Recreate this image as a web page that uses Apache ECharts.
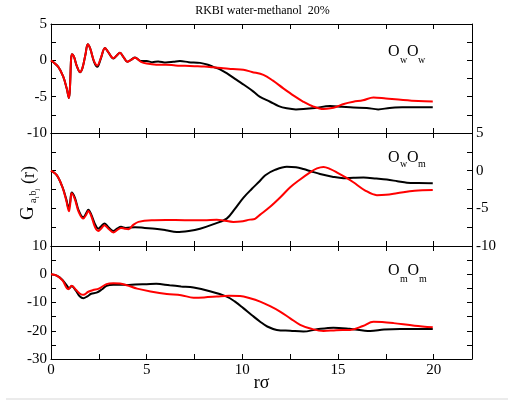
<!DOCTYPE html>
<html>
<head>
<meta charset="utf-8">
<script src="https://cdn.jsdelivr.net/npm/echarts@6.0.0/dist/echarts.min.js"></script>
<style>
html,body{margin:0;padding:0;background:#fff;}
#chart{width:514px;height:406px;}
</style>
</head>
<body>
<div id="chart"></div>
<script>
// ---------- data ----------
const titleText = 'RKBI water-methanol  20%';
const xTickLabels = [0, 5, 10, 15, 20];
const topTicks = [5, 0, -5, -10];
const midTicks = [5, 0, -5, -10];
const botTicks = [10, 0, -10, -20, -30];

const owowBlack = [[0,0],[0.38,-0.9],[0.64,-2.25],[0.82,-3.85],[0.94,-5.2],[1.0,-3.2],[1.05,0.2],[1.1,0.85],[1.2,0.5],[1.35,-0.8],[1.52,-1.65],[1.65,-1.0],[1.8,0.8],[1.92,2.2],[2.05,1.6],[2.25,-0.2],[2.42,-0.9],[2.6,0.2],[2.82,1.7],[3.0,1.1],[3.26,0.25],[3.45,0.7],[3.6,1.05],[3.8,0.4],[3.99,-0.2],[4.2,0.1],[4.39,0.4],[4.7,-0.1],[5.0,-0.1],[5.3,-0.25],[5.6,-0.15],[6.0,-0.3],[6.4,-0.2],[6.74,-0.1],[7.2,-0.25],[7.79,-0.35],[8.2,-0.6],[8.48,-0.9],[8.83,-1.24],[9.2,-1.8],[9.7,-2.7],[10.1,-3.4],[10.58,-4.3],[10.9,-5.0],[11.45,-5.7],[11.9,-6.3],[12.32,-6.6],[12.8,-6.75],[13.19,-6.7],[13.8,-6.55],[14.58,-6.3],[15.2,-6.4],[15.8,-6.5],[16.5,-6.55],[17.1,-6.75],[17.7,-6.55],[18.4,-6.47],[19.2,-6.45],[19.95,-6.47]];
const owowRed = [[0,0],[0.38,-0.9],[0.64,-2.25],[0.82,-3.85],[0.94,-5.2],[1.0,-3.2],[1.05,0.2],[1.1,0.85],[1.2,0.5],[1.35,-0.8],[1.52,-1.6],[1.65,-1.0],[1.8,0.8],[1.92,2.2],[2.05,1.6],[2.25,-0.1],[2.42,-0.7],[2.6,0.3],[2.82,1.7],[3.0,1.1],[3.26,0.3],[3.45,0.7],[3.6,1.05],[3.8,0.4],[3.99,-0.2],[4.2,0.1],[4.39,0.35],[4.7,-0.2],[5.0,-0.45],[5.5,-0.6],[6.0,-0.6],[6.5,-0.7],[7.0,-0.75],[7.5,-0.8],[8.0,-0.85],[8.48,-0.96],[9.0,-1.1],[9.5,-1.2],[10.05,-1.3],[10.5,-1.6],[11.1,-2.0],[11.6,-2.8],[12.14,-3.86],[12.7,-4.9],[13.19,-5.7],[13.7,-6.35],[14.24,-6.7],[14.6,-6.6],[14.93,-6.38],[15.3,-6.0],[15.8,-5.7],[16.3,-5.5],[16.85,-5.1],[17.5,-5.25],[18.4,-5.46],[19.2,-5.6],[19.95,-5.65]];

const owomBlack = [[0,0],[0.3,-0.6],[0.6,-2.2],[0.8,-3.8],[0.92,-5.0],[1.0,-4.2],[1.08,-2.9],[1.25,-3.6],[1.45,-5.3],[1.69,-6.2],[1.85,-5.6],[1.95,-5.2],[2.1,-5.8],[2.3,-7.1],[2.47,-7.7],[2.65,-7.3],[2.79,-7.0],[3.0,-7.5],[3.26,-8.0],[3.45,-7.7],[3.66,-7.46],[3.9,-7.6],[4.39,-7.5],[4.9,-7.6],[5.44,-7.7],[6.0,-7.9],[6.57,-8.15],[7.2,-8.0],[7.79,-7.7],[8.5,-7.1],[9.18,-6.36],[9.6,-5.1],[10.05,-3.6],[10.5,-2.4],[10.9,-1.4],[11.2,-0.6],[11.7,0.1],[12.32,0.53],[12.8,0.45],[13.19,0.22],[13.6,-0.1],[14.06,-0.44],[14.7,-0.8],[15.28,-1.0],[15.8,-0.95],[16.33,-0.92],[17.0,-1.05],[17.55,-1.18],[18.1,-1.4],[18.6,-1.6],[19.2,-1.65],[19.95,-1.67]];
const owomRed = [[0,0],[0.3,-0.6],[0.6,-2.2],[0.8,-4.0],[0.94,-5.4],[1.0,-4.5],[1.08,-3.0],[1.25,-3.8],[1.45,-5.5],[1.69,-6.36],[1.85,-5.8],[1.95,-5.35],[2.1,-6.0],[2.3,-7.5],[2.47,-8.0],[2.65,-7.6],[2.79,-7.24],[3.0,-7.7],[3.26,-8.2],[3.45,-7.9],[3.66,-7.6],[3.85,-7.7],[4.05,-7.76],[4.3,-7.2],[4.57,-6.8],[5.26,-6.58],[6.0,-6.55],[7.0,-6.58],[8.0,-6.58],[8.66,-6.5],[9.0,-6.6],[9.53,-6.8],[9.9,-6.75],[10.4,-6.5],[10.66,-6.4],[10.9,-5.9],[11.45,-4.8],[12.0,-3.5],[12.5,-2.2],[13.0,-1.2],[13.54,-0.22],[13.9,0.3],[14.24,0.5],[14.6,0.2],[14.93,-0.22],[15.4,-0.9],[15.8,-1.54],[16.4,-2.6],[17.03,-3.25],[17.5,-3.2],[18.07,-3.0],[19.0,-2.65],[19.95,-2.55]];

const ommBlack = [[0,0],[0.3,-0.5],[0.6,-2.0],[0.85,-4.2],[0.95,-5.0],[1.08,-4.2],[1.3,-5.8],[1.5,-7.8],[1.69,-8.5],[1.9,-7.8],[2.1,-6.9],[2.38,-6.5],[2.65,-5.4],[2.9,-4.1],[3.26,-3.7],[3.6,-3.7],[3.96,-3.8],[4.4,-3.6],[5.0,-3.5],[5.5,-3.4],[6.2,-3.9],[6.8,-4.3],[7.45,-4.7],[8.3,-6.0],[9.18,-7.9],[9.6,-9.6],[10.05,-12.0],[10.5,-14.5],[10.93,-16.8],[11.3,-18.5],[11.8,-19.7],[12.5,-20.0],[13.19,-20.3],[13.9,-19.5],[14.76,-18.9],[15.6,-19.3],[16.68,-20.1],[17.4,-19.6],[18.25,-19.4],[19.1,-19.4],[19.95,-19.4]];
const ommRed = [[0,0],[0.3,-0.5],[0.6,-2.2],[0.9,-5.3],[1.08,-4.1],[1.3,-5.5],[1.5,-6.8],[1.69,-7.3],[1.95,-6.2],[2.2,-5.6],[2.5,-5.1],[2.9,-3.5],[3.26,-3.2],[3.6,-3.3],[3.96,-3.9],[4.5,-5.1],[5.2,-6.1],[6.05,-7.0],[6.8,-7.4],[7.45,-8.3],[8.0,-8.2],[8.66,-7.9],[9.3,-7.6],[9.88,-7.7],[10.4,-8.5],[10.93,-9.7],[11.45,-11.3],[11.97,-13.2],[12.5,-15.6],[13.02,-17.9],[13.6,-19.3],[14.24,-20.1],[14.9,-19.8],[15.63,-19.7],[16.3,-18.3],[16.85,-16.8],[17.3,-16.9],[17.9,-17.3],[19.0,-18.2],[19.95,-18.8]];

// ---------- chart ----------
const serif = 'Liberation Serif';
const chart = echarts.init(document.getElementById('chart'), null, {renderer: 'canvas'});

const grids = [
  {left: 51, top: 24, width: 421, height: 109},
  {left: 51, top: 133, width: 421, height: 113},
  {left: 51, top: 246, width: 421, height: 113}
].map(g => Object.assign({containLabel: false, outerBoundsMode: 'none'}, g));

const axisLine = {show: true, onZero: false, lineStyle: {color: '#000', width: 1}};
const tick = {show: true, inside: true, length: 5, lineStyle: {color: '#000', width: 1}};
const labelStyle = {color: '#000', fontFamily: serif, fontSize: 15};

function inList(list) {
  return v => (list.indexOf(Math.round(v * 100) / 100) >= 0 ? String(v).replace('-', '-') : '');
}

const xAxes = [];
for (let i = 0; i < 3; i++) {
  ['bottom', 'top'].forEach(pos => {
    xAxes.push({
      type: 'value', gridIndex: i, position: pos, min: 0, max: 22, interval: 2.5,
      axisLine: axisLine, axisTick: tick, splitLine: {show: false},
      axisLabel: Object.assign({show: i === 2 && pos === 'bottom', margin: 4,
        formatter: inList(xTickLabels), showMaxLabel: false}, labelStyle)
    });
  });
}

const yCfg = [
  {min: -10, max: 5, interval: 2.5, labels: topTicks, left: true, right: false},
  {min: -10, max: 5, interval: 2.5, labels: midTicks, left: false, right: true},
  {min: -30, max: 10, interval: 5, labels: botTicks, left: true, right: false}
];
const yAxes = [];
yCfg.forEach((c, i) => {
  ['left', 'right'].forEach(pos => {
    yAxes.push({
      type: 'value', gridIndex: i, position: pos, min: c.min, max: c.max, interval: c.interval,
      axisLine: axisLine, axisTick: tick, splitLine: {show: false},
      axisLabel: Object.assign({show: pos === 'left' ? c.left : c.right, margin: 4,
        formatter: inList(c.labels)}, labelStyle)
    });
  });
});

function line(data, i, color) {
  return {
    type: 'line', data: data, xAxisIndex: 2 * i, yAxisIndex: 2 * i,
    showSymbol: false, symbol: 'none', smooth: 0.35, animation: false,
    lineStyle: {color: color, width: 2}, itemStyle: {color: color}, z: color === '#ff0000' ? 3 : 2
  };
}

function pairLabel(x, yO, ySub, s1, s2, xs) {
  const big = {fontFamily: serif, fontSize: 16, fill: '#000', textVerticalAlign: 'middle', textAlign: 'left'};
  const small = {fontFamily: serif, fontSize: 10, fill: '#000', textVerticalAlign: 'middle', textAlign: 'left'};
  return [
    {type: 'text', x: xs[0], y: yO, style: Object.assign({text: 'O'}, big)},
    {type: 'text', x: xs[1], y: ySub, style: Object.assign({text: s1}, small)},
    {type: 'text', x: xs[2], y: yO, style: Object.assign({text: 'O'}, big)},
    {type: 'text', x: xs[3], y: ySub, style: Object.assign({text: s2}, small)}
  ];
}

const gFont = {fontFamily: serif, fill: '#000', textVerticalAlign: 'middle', textAlign: 'left'};
const graphics = [
  {type: 'text', x: 262.5, y: 11, style: {text: titleText, fontFamily: serif, fontSize: 12, fill: '#000', textAlign: 'center', textVerticalAlign: 'middle'}},
  {type: 'text', x: 261.5, y: 383, style: {text: 'rσ', fontFamily: serif, fontSize: 18, fill: '#000', textAlign: 'center', textVerticalAlign: 'middle'}},
  {
    type: 'group', x: 35, y: 190, rotation: Math.PI / 2,
    children: [
      {type: 'text', x: -30, y: -7, style: Object.assign({text: 'G', fontSize: 19}, gFont)},
      {type: 'text', x: -13, y: -1.5, style: Object.assign({text: 'a', fontSize: 10}, gFont)},
      {type: 'text', x: -8.3, y: 2, style: Object.assign({text: 'i', fontSize: 7}, gFont)},
      {type: 'text', x: -5.5, y: -1.5, style: Object.assign({text: 'b', fontSize: 10}, gFont)},
      {type: 'text', x: -0.5, y: 2, style: Object.assign({text: 'j', fontSize: 7}, gFont)},
      {type: 'text', x: 6, y: -6, style: Object.assign({text: '(r)', fontSize: 18}, gFont)}
    ]
  },
  {type: 'line', shape: {x1: 6, y1: 399, x2: 508, y2: 399}, style: {stroke: '#ebebeb', lineWidth: 2}}
].concat(
  pairLabel(0, 52, 60, 'w', 'w', [388, 400, 407, 418]),
  pairLabel(0, 158, 164.5, 'w', 'm', [388, 400, 407, 418]),
  pairLabel(0, 270.3, 279.5, 'm', 'm', [388, 400, 407.5, 419])
);

chart.setOption({
  animation: false,
  backgroundColor: '#fff',
  grid: grids,
  xAxis: xAxes,
  yAxis: yAxes,
  series: [
    line(owowBlack, 0, '#000000'), line(owowRed, 0, '#ff0000'),
    line(owomBlack, 1, '#000000'), line(owomRed, 1, '#ff0000'),
    line(ommBlack, 2, '#000000'), line(ommRed, 2, '#ff0000')
  ],
  graphic: graphics
});
</script>
</body>
</html>
